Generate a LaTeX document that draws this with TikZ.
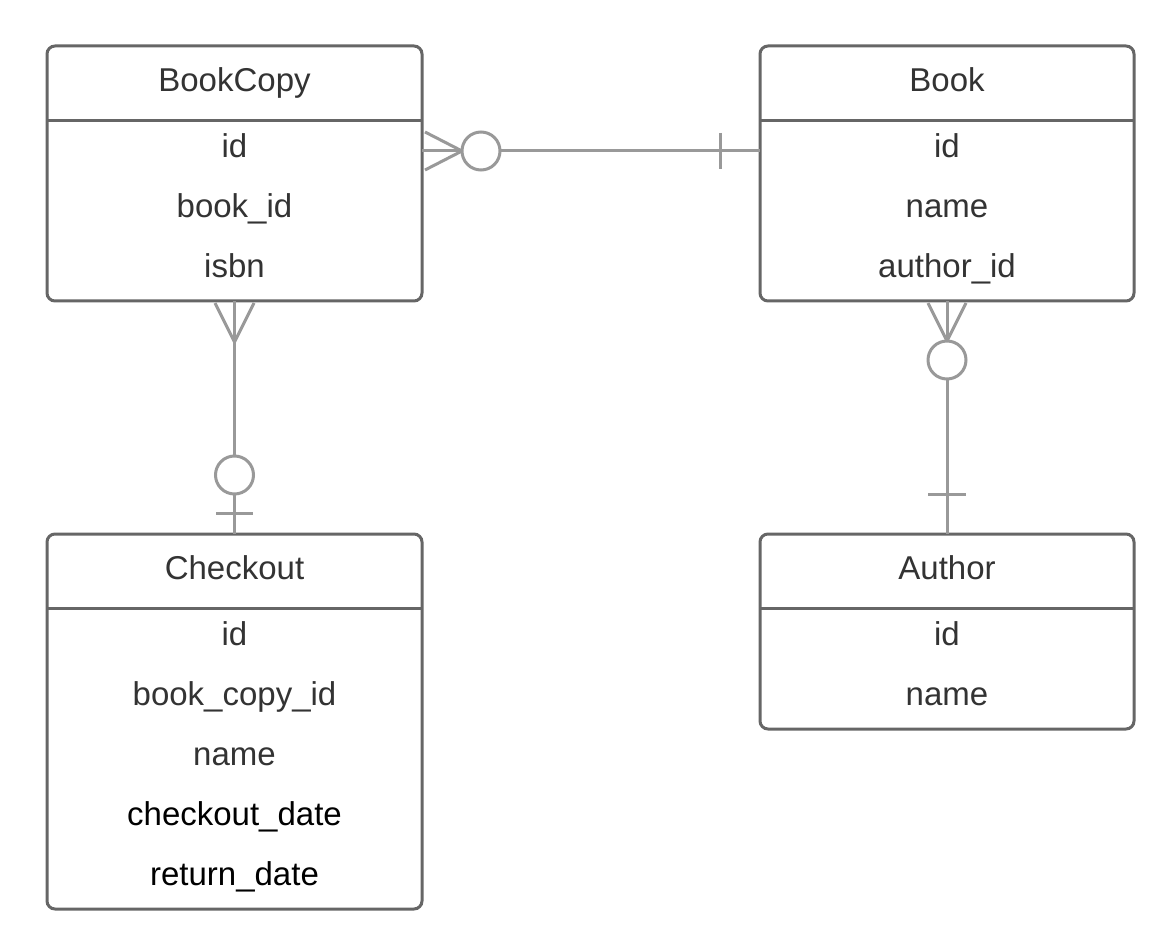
\documentclass[tikz,border=0pt]{standalone}
\usepackage{fontspec}
\setmainfont{Liberation Sans}
\definecolor{bord}{HTML}{666666}
\definecolor{conncol}{HTML}{999999}
\definecolor{txt}{HTML}{333333}
\begin{document}
\begin{tikzpicture}[x=1pt,y=-1pt,
  entity/.style={draw=bord, line width=3pt, rounded corners=8pt, fill=white, anchor=north west, inner sep=0pt, outer sep=0pt},
  divider/.style={draw=bord, line width=3pt},
  lbl/.style={anchor=base, inner sep=0pt, text=txt, font=\fontsize{33}{40}\selectfont},
  lblk/.style={lbl, text=black},
  conn/.style={draw=conncol, line width=3pt},
  ring/.style={draw=conncol, line width=3pt, fill=white}]
\useasboundingbox (0,0) rectangle (1168,936);
\fill[white] (0,0) rectangle (1168,936);

% entities
\node[entity, minimum width=375pt, minimum height=255pt] (bc) at (47,46) {};
\node[entity, minimum width=374pt, minimum height=255pt] (bk) at (760,46) {};
\node[entity, minimum width=375pt, minimum height=375pt] (co) at (47,534) {};
\node[entity, minimum width=374pt, minimum height=195pt] (au) at (760,534) {};

\draw[divider] ([yshift=-75pt]bc.north west) -- ([yshift=-75pt]bc.north east);
\draw[divider] ([yshift=-75pt]bk.north west) -- ([yshift=-75pt]bk.north east);
\draw[divider] ([yshift=-74pt]co.north west) -- ([yshift=-74pt]co.north east);
\draw[divider] ([yshift=-74pt]au.north west) -- ([yshift=-74pt]au.north east);

% texts
\node[lbl] (bct) at (234.5,92) {BookCopy};
\node[lbl] (bc1) at (234.5,158) {id};
\node[lbl] (bc2) at (234.5,218) {book\_id};
\node[lbl] (bc3) at (234.5,278) {isbn};

\node[lbl] (bkt) at (947,92) {Book};
\node[lbl] (bk1) at (947,158) {id};
\node[lbl] (bk2) at (947,218) {name};
\node[lbl] (bk3) at (947,278) {author\_id};

\node[lbl] (cot) at (234.5,579) {Checkout};
\node[lbl] (co1) at (234.5,645) {id};
\node[lbl] (co2) at (234.5,705) {book\_copy\_id};
\node[lbl] (co3) at (234.5,765) {name};
\node[lblk] (co4) at (234.5,825) {checkout\_date};
\node[lblk] (co5) at (234.5,885) {return\_date};

\node[lbl] (aut) at (947,579) {Author};
\node[lbl] (au1) at (947,645) {id};
\node[lbl] (au2) at (947,705) {name};

% connector BookCopy -- Book
\draw[conn] ([yshift=-105pt]bc.north east) -- ([yshift=-105pt]bk.north west);
\draw[conn] (425,132) -- (462,151) -- (425,170);
\draw[ring] (481,151) circle (19);
\draw[conn] (720,133) -- (720,169);

% connector BookCopy -- Checkout
\draw[conn] (bc.south) -- (co.north);
\draw[conn] (215,303) -- (234.5,342) -- (254,303);
\draw[ring] (234.5,475) circle (19);
\draw[conn] (216,513) -- (253,513);

% connector Book -- Author
\draw[conn] (bk.south) -- (au.north);
\draw[conn] (928,303) -- (947,341) -- (966,303);
\draw[ring] (947,360) circle (19);
\draw[conn] (928,494) -- (966,494);
\end{tikzpicture}
\end{document}
